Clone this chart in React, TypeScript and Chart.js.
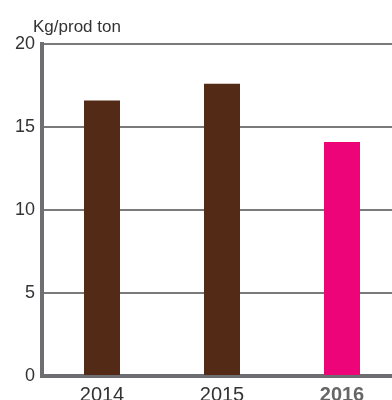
import React, { useEffect, useRef } from "react";
import { Chart, registerables } from "chart.js";

Chart.register(...registerables);

const categories = ["2014", "2015", "2016"];
const values = [16.6, 17.6, 14.1];
const barColors = ["#532a16", "#532a16", "#ee0479"];
const yTicks = [0, 5, 10, 15, 20];
const unitLabel = "Kg/prod ton";

export default function App() {
  const ref = useRef<HTMLCanvasElement | null>(null);

  useEffect(() => {
    if (!ref.current) return;
    const titlePlugin = {
      id: "unitTitle",
      afterDraw(chart: any) {
        const ctx = chart.ctx;
        ctx.save();
        ctx.font = "17px 'Liberation Sans', Arial, sans-serif";
        ctx.fillStyle = "#333333";
        ctx.textAlign = "left";
        ctx.textBaseline = "alphabetic";
        ctx.fillText(unitLabel, 33, 32);
        ctx.restore();
      },
    };
    const chart = new Chart(ref.current, {
      type: "bar",
      data: {
        labels: categories,
        datasets: [
          {
            data: values,
            backgroundColor: barColors,
            borderWidth: 0,
            barPercentage: 0.3,
            categoryPercentage: 1,
          },
        ],
      },
      options: {
        responsive: false,
        animation: false,
        layout: { padding: { top: 44, left: 0, right: 0, bottom: 0 } },
        plugins: { legend: { display: false }, tooltip: { enabled: false }, title: { display: false } },
        scales: {
          x: {
            grid: { display: false, drawTicks: false },
            border: { display: true, color: "#6d6e71", width: 4 },
            ticks: {
              padding: 7,
              color: (c: any) => (c.index === 2 ? "#666666" : "#333333"),
              font: (c: any) => ({
                family: "'Liberation Sans', Arial, sans-serif",
                size: 20,
                weight: c.index === 2 ? "bold" : "normal",
              }),
            },
            afterFit: (s: any) => {
              s.height = 24;
            },
          },
          y: {
            min: 0,
            max: 20,
            afterBuildTicks: (s: any) => {
              s.ticks = yTicks.map((v) => ({ value: v }));
            },
            grid: {
              drawTicks: false,
              color: (c: any) => (c.tick && c.tick.value === 0 ? "rgba(0,0,0,0)" : "#7a7a7a"),
              lineWidth: 2,
            },
            border: { display: true, color: "#6d6e71", width: 4 },
            ticks: {
              padding: 7,
              color: "#333333",
              font: { family: "'Liberation Sans', Arial, sans-serif", size: 18 },
            },
            afterFit: (s: any) => {
              s.width = 42;
            },
          },
        },
      },
      plugins: [titlePlugin],
    });
    return () => chart.destroy();
  }, []);

  return (
    <div
      style={{
        position: "fixed",
        left: 0,
        top: 0,
        width: 392,
        height: 400,
        overflow: "hidden",
        background: "#ffffff",
      }}
    >
      <canvas ref={ref} width={402} height={400} style={{ display: "block" }} />
    </div>
  );
}
